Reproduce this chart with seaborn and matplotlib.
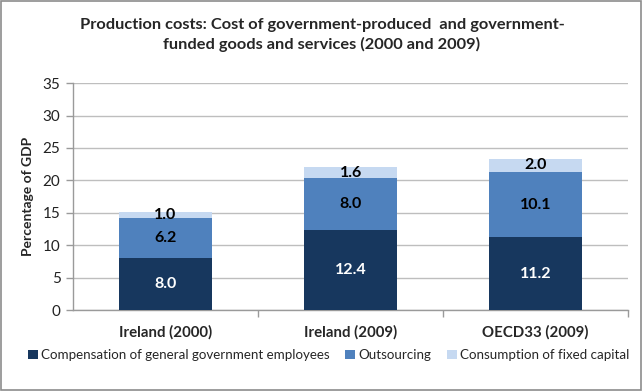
import matplotlib
matplotlib.use("Agg")
import matplotlib.pyplot as plt
import seaborn as sns
import pandas as pd
import numpy as np
from matplotlib.patches import Rectangle

categories = ["Ireland (2000)", "Ireland (2009)", "OECD33 (2009)"]
components = ["Compensation of general government employees", "Outsourcing",
              "Consumption of fixed capital"]
compensation = [8.0, 12.4, 11.2]
outsourcing = [6.2, 8.0, 10.1]
fixed_capital = [1.0, 1.6, 2.0]
yticks = [0, 5, 10, 15, 20, 25, 30, 35]

colors = ["#17375E", "#4F81BD", "#C6D9F1"]
label_colors = ["white", "black", "black"]

sns.set_theme(style="white")
plt.rcParams["font.family"] = ["Lato", "DejaVu Sans"]

df = pd.DataFrame({"category": categories,
                   components[0]: compensation,
                   components[1]: outsourcing,
                   components[2]: fixed_capital})

fig = plt.figure(figsize=(6.44, 3.92), dpi=100)
ax = fig.add_axes([0.1134, 0.209, 0.862, 0.579])

bottom = np.zeros(len(categories))
for comp, col, lcol in zip(components, colors, label_colors):
    sns.barplot(data=df, x="category", y=comp, color=col, width=0.5,
                bottom=bottom, ax=ax, label=comp, saturation=1,
                edgecolor="none", linewidth=0, zorder=3)
    cont = ax.containers[-1]
    ax.bar_label(cont, labels=[f"{v:.1f}" for v in df[comp]],
                 label_type="center", color=lcol, fontsize=11.5,
                 fontweight="bold", zorder=4)
    bottom = bottom + df[comp].to_numpy()

ax.set_ylim(0, 35)
ax.set_xlim(-0.5, 2.5)
ax.set_yticks(yticks)
ax.set_yticklabels([str(t) for t in yticks], fontsize=11, color="#222222")
ax.yaxis.grid(True, color="#BEBEBE", linewidth=1, zorder=0)
ax.set_axisbelow(True)
for s in ["top", "right"]:
    ax.spines[s].set_visible(False)
for s in ["left", "bottom"]:
    ax.spines[s].set_color("#9A9A9A")
    ax.spines[s].set_linewidth(1)
ax.tick_params(axis="y", which="major", left=True, length=5, width=1,
               color="#9A9A9A", pad=4)
ax.set_xticks([0, 1, 2])
ax.set_xticklabels(categories, fontsize=10.8, fontweight="bold")
ax.tick_params(axis="x", which="major", bottom=False, pad=5)
ax.set_xticks([0.5, 1.5, 2.5], minor=True)
ax.tick_params(axis="x", which="minor", bottom=True, length=5, width=1,
               color="#9A9A9A")
ax.set_xlabel("")
ax.set_ylabel("Percentage of GDP", fontsize=10, fontweight="bold", labelpad=6)

fig.suptitle("Production costs: Cost of government-produced  and government-\n"
             "funded goods and services (2000 and 2009)",
             x=0.5, y=0.955, fontsize=11.8, fontweight="bold", linespacing=1.45)

handles, labels = ax.get_legend_handles_labels()
leg = fig.legend(handles, labels, loc="center", bbox_to_anchor=(0.51, 0.094),
                 ncol=3, frameon=False, fontsize=9.6, handlelength=0.75,
                 handleheight=0.75, handletextpad=0.2, columnspacing=1.2)
if ax.get_legend() is not None:
    ax.get_legend().remove()

fig.patches.append(Rectangle((0.002, 0.004), 0.994, 0.993, transform=fig.transFigure,
                             fill=False, edgecolor="#8C8C8C", linewidth=1.2))

fig.savefig("out.png", dpi=100)
